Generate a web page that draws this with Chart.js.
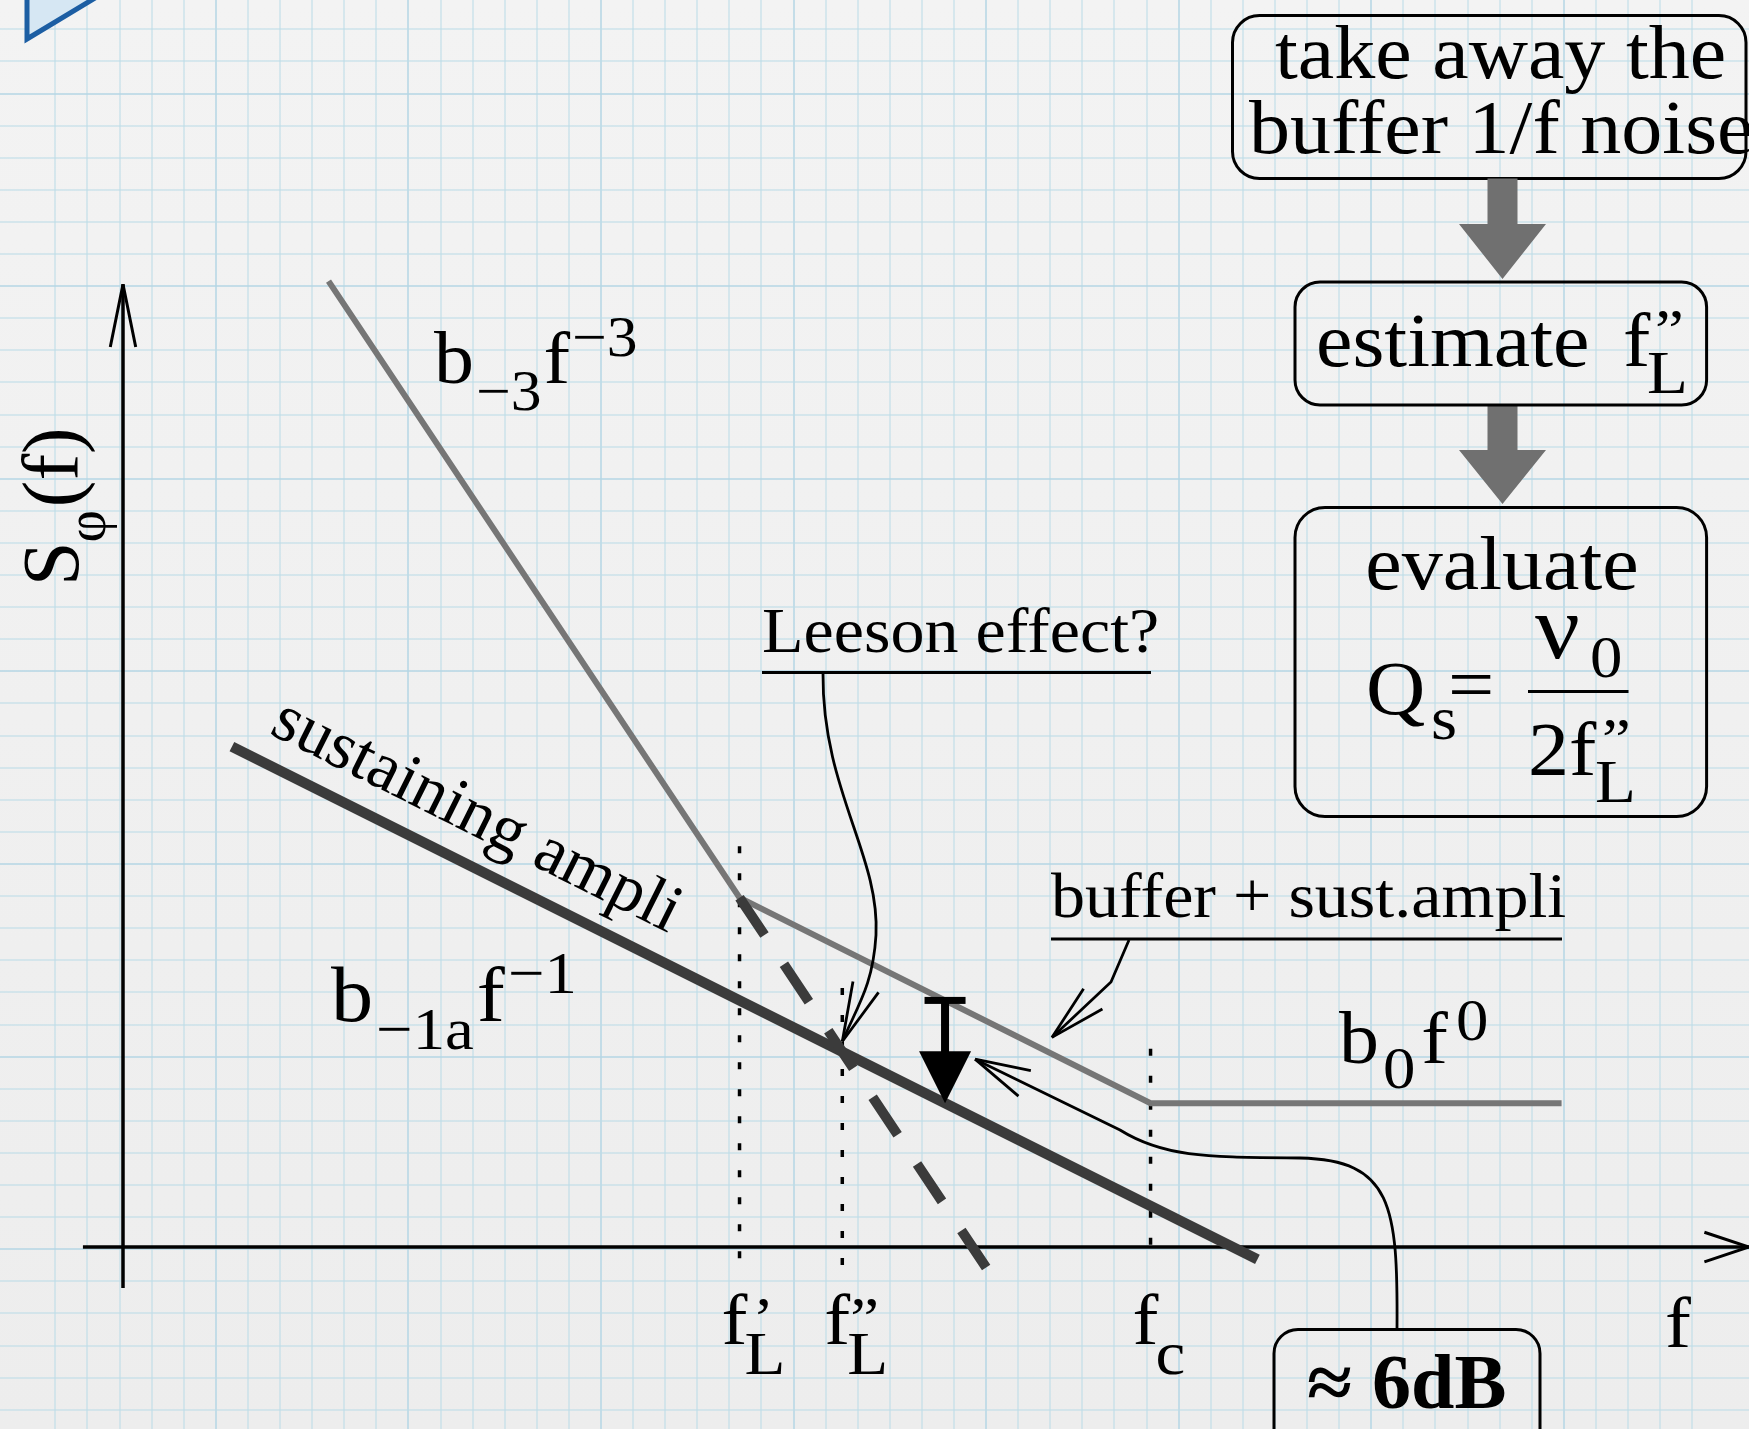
<!DOCTYPE html>
<html><head><meta charset="utf-8">
<script src="https://cdn.jsdelivr.net/npm/chart.js@4.4.1/dist/chart.umd.min.js"></script>
<style>html,body{margin:0;padding:0;background:#f1f1f1;overflow:hidden}canvas{display:block}</style>
</head><body>
<canvas id="c" width="1749" height="1429" style="width:1749px;height:1429px"></canvas>
<script>
// ---- Data (log-log units: x = log f in decades, y = log S in decades) ----
const totalX = [1, 3, 5, 7];            // b_-3 f^-3  ->  buffer + sust.ampli  ->  b0 f^0
const totalY = [9.4, 3.4, 1.4, 1.4];
const sustX = [0.53, 5.52];             // sustaining ampli, b_-1a f^-1
const sustY = [4.87, -0.12];
const leesonX = [3, 4.2];               // extrapolated f^-3 (dashed)
const leesonY = [3.4, -0.2];
const markerFreqs = [3, 3.5, 5];        // f_L', f_L'', f_c
const markerTop = [3.9, 2.52, 1.93];
const markerBottom = [-0.25, -0.25, 0];
const markerLabels = [['f', 'L', '\u2019'], ['f', 'L', '\u201D'], ['f', 'c', '']];
const dropX = [4];                      // "≈ 6dB" drop between buffer+sust and sust
const dropFrom = [2.4];
const dropTo = [1.4];
const leesonPoint = [3.5, 2.0];
const bufferPoint = [4.52, 2.04];
const axisX = [-0.195, 7.912];
const axisY = [-0.40, 9.37];

const FONT = '"Liberation Serif","Times New Roman","DejaVu Serif",serif';
const pts = (xs, ys) => xs.map((x, i) => ({x, y: ys[i]}));

function rich(ctx, x, y, parts, sx) {
  sx = sx || 1.08;
  ctx.save(); ctx.translate(x, y); ctx.scale(sx, 1);
  let cx = 0;
  for (const p of parts) {
    cx += (p.dx || 0) / sx;
    ctx.font = (p.b ? 'bold ' : '') + p.s + 'px ' + FONT;
    ctx.fillText(p.t, cx, p.dy || 0);
    cx += ctx.measureText(p.t).width;
  }
  ctx.restore();
}
function openHead(ctx, tx, ty, ang, len, half) {
  for (const s of [-1, 1]) {
    const b = ang + Math.PI + s * half;
    ctx.moveTo(tx + len * Math.cos(b), ty + len * Math.sin(b));
    ctx.lineTo(tx, ty);
  }
}
function rbox(ctx, x0, y0, x1, y1, r) {
  ctx.beginPath(); ctx.roundRect(x0, y0, x1 - x0, y1 - y0, r); ctx.stroke();
}
function grayArrow(ctx, cx, y0, y1, y2, sw, hw) {
  ctx.beginPath();
  ctx.moveTo(cx - sw / 2, y0); ctx.lineTo(cx + sw / 2, y0); ctx.lineTo(cx + sw / 2, y1);
  ctx.lineTo(cx + hw, y1); ctx.lineTo(cx, y2); ctx.lineTo(cx - hw, y1); ctx.lineTo(cx - sw / 2, y1);
  ctx.closePath(); ctx.fill();
}

const deco = {
  id: 'deco',
  beforeDraw(chart) {
    const ctx = chart.ctx, w = chart.width, h = chart.height;
    const g = ctx.createLinearGradient(0, 0, 0, h);
    g.addColorStop(0, '#f3f3f3'); g.addColorStop(1, '#ededed');
    ctx.save(); ctx.fillStyle = g; ctx.fillRect(0, 0, w, h); ctx.restore();
  },
  beforeDatasetsDraw(chart) {
    const ctx = chart.ctx, xs = chart.scales.x, ys = chart.scales.y;
    const X = v => xs.getPixelForValue(v), Y = v => ys.getPixelForValue(v);
    ctx.save();
    ctx.strokeStyle = '#000'; ctx.lineWidth = 3.5; ctx.lineCap = 'butt';
    ctx.beginPath(); ctx.moveTo(X(axisX[0]), Y(0)); ctx.lineTo(X(axisX[1]), Y(0)); ctx.stroke();
    ctx.lineWidth = 3;
    ctx.beginPath(); openHead(ctx, X(axisX[1]), Y(0), 0, 47, 0.32); ctx.stroke();
    ctx.lineWidth = 3.5;
    ctx.beginPath(); ctx.moveTo(X(0), Y(axisY[0])); ctx.lineTo(X(0), Y(axisY[1])); ctx.stroke();
    ctx.lineWidth = 3;
    ctx.beginPath(); openHead(ctx, X(0), Y(axisY[1]), -Math.PI / 2, 64, 0.2); ctx.stroke();
    ctx.restore();
  },
  afterDatasetsDraw(chart) {
    const ctx = chart.ctx, xs = chart.scales.x, ys = chart.scales.y;
    const X = v => xs.getPixelForValue(v), Y = v => ys.getPixelForValue(v);
    ctx.save();
    ctx.fillStyle = '#000'; ctx.strokeStyle = '#000';
    ctx.textBaseline = 'alphabetic'; ctx.textAlign = 'left';

    // top-left corner shape
    ctx.save();
    ctx.beginPath(); ctx.moveTo(27, -20); ctx.lineTo(27, 39); ctx.lineTo(100, -5); ctx.closePath();
    ctx.fillStyle = '#d6e7f3'; ctx.fill();
    ctx.strokeStyle = '#1c5ea3'; ctx.lineWidth = 5; ctx.lineJoin = 'miter'; ctx.stroke();
    ctx.restore();

    // y label S_phi(f)
    ctx.save(); ctx.translate(78, 586); ctx.rotate(-Math.PI / 2);
    rich(ctx, 0, 0, [{t: 'S', s: 80}, {t: '\u03C6', s: 56, dy: 27, dx: -1}, {t: '(f)', s: 80, dx: 3}], 1);
    ctx.restore();

    // x label
    rich(ctx, 1665, 1347, [{t: 'f', s: 72}]);

    // marker labels under axis
    markerFreqs.forEach((f, i) => {
      const x0 = X(f) - 18;
      const lab = markerLabels[i];
      rich(ctx, x0, 1344, [{t: lab[0], s: 72}]);
      rich(ctx, x0 + 23, 1374, [{t: lab[1], s: 62}]);
      if (lab[2]) rich(ctx, x0 + (i === 0 ? 31 : 26), 1338, [{t: lab[2], s: 60}]);
    });

    // slope labels
    rich(ctx, 434, 383, [{t: 'b', s: 74}, {t: '\u22123', s: 57, dy: 27, dx: 2}, {t: 'f', s: 74, dx: 2}, {t: '\u22123', s: 57, dy: -27, dx: 2}]);
    rich(ctx, 331, 1021, [{t: 'b', s: 78}, {t: '\u22121a', s: 60, dy: 28, dx: 3}, {t: 'f', s: 78, dx: 3}, {t: '\u22121', s: 60, dy: -28, dx: 3}]);
    rich(ctx, 1339, 1063, [{t: 'b', s: 74}, {t: '0', s: 60, dy: 25, dx: 4}, {t: 'f', s: 74, dx: 6}, {t: '0', s: 60, dy: -23, dx: 8}]);

    // sustaining ampli (rotated along the line)
    const ang = Math.atan2(Y(sustY[1]) - Y(sustY[0]), X(sustX[1]) - X(sustX[0]));
    ctx.save(); ctx.translate(268, 733); ctx.rotate(ang);
    rich(ctx, 0, 0, [{t: 'sustaining ampli', s: 68}], 1);
    ctx.restore();

    // Leeson effect?
    rich(ctx, 762, 652, [{t: 'Leeson effect?', s: 63}]);
    ctx.lineWidth = 3;
    ctx.beginPath(); ctx.moveTo(762, 672.6); ctx.lineTo(1151, 672.6); ctx.stroke();
    const lt = [X(leesonPoint[0]), Y(leesonPoint[1])];
    ctx.lineWidth = 2.8;
    ctx.beginPath(); ctx.moveTo(823, 673);
    ctx.bezierCurveTo(822, 790, 880, 855, 876, 935);
    ctx.bezierCurveTo(873, 985, 858, 1005, lt[0], lt[1]);
    ctx.stroke();
    ctx.beginPath(); openHead(ctx, lt[0], lt[1], Math.atan2(lt[1] - 1005, lt[0] - 858), 61, 0.23); ctx.stroke();

    // buffer + sust.ampli
    rich(ctx, 1051, 917, [{t: 'buffer + sust.ampli', s: 63}]);
    ctx.lineWidth = 3;
    ctx.beginPath(); ctx.moveTo(1051, 939); ctx.lineTo(1562, 939); ctx.stroke();
    const bt = [X(bufferPoint[0]), Y(bufferPoint[1])];
    ctx.lineWidth = 2.8;
    ctx.beginPath(); ctx.moveTo(1129, 940); ctx.lineTo(1111, 982); ctx.lineTo(bt[0], bt[1]); ctx.stroke();
    ctx.beginPath(); openHead(ctx, bt[0], bt[1], Math.atan2(bt[1] - 982, bt[0] - 1111), 58, 0.24); ctx.stroke();

    // drop marker (T with filled arrow)
    const cx = X(dropX[0]), topY = Y(dropFrom[0]), tipY = Y(dropTo[0]), baseY = tipY - 52;
    ctx.fillRect(cx - 20.5, topY - 3.5, 41, 7);
    ctx.fillRect(cx - 4, topY, 8, baseY - topY + 1);
    ctx.beginPath(); ctx.moveTo(cx - 26, baseY); ctx.lineTo(cx + 26, baseY); ctx.lineTo(cx, tipY); ctx.closePath(); ctx.fill();

    // 6dB callout
    const dt = [cx + 30, baseY + 8];
    ctx.lineWidth = 2.8;
    ctx.beginPath(); ctx.moveTo(1397, 1330);
    ctx.bezierCurveTo(1398, 1205, 1392, 1160, 1300, 1158);
    ctx.bezierCurveTo(1210, 1157, 1165, 1158, 1120, 1130);
    ctx.lineTo(dt[0], dt[1]);
    ctx.stroke();
    ctx.beginPath(); openHead(ctx, dt[0], dt[1], Math.atan2(dt[1] - 1130, dt[0] - 1120), 57, 0.25); ctx.stroke();
    ctx.lineWidth = 3;
    rbox(ctx, 1274, 1329.5, 1540, 1470, 24);
    rich(ctx, 1307, 1408, [{t: '\u2248', s: 76, b: true}]);
    rich(ctx, 1372, 1408, [{t: '6dB', s: 78, b: true}], 1.0);

    // flow boxes on the right
    ctx.lineWidth = 3;
    rbox(ctx, 1232.5, 15.6, 1746, 178.5, 27);
    rich(ctx, 1275, 78, [{t: 'take away the', s: 76}]);
    rich(ctx, 1249, 153, [{t: 'buffer 1/f noise', s: 76}]);

    ctx.fillStyle = '#707070';
    grayArrow(ctx, 1502.5, 178.5, 224, 279, 30, 43.5);
    grayArrow(ctx, 1502.5, 405, 450, 504, 30, 43.5);
    ctx.fillStyle = '#000';

    rbox(ctx, 1295, 282, 1706.6, 405, 25);
    rich(ctx, 1316, 366, [{t: 'estimate', s: 76}]);
    rich(ctx, 1623, 366, [{t: 'f', s: 76}]);
    rich(ctx, 1647, 393, [{t: 'L', s: 62}]);
    rich(ctx, 1655, 350, [{t: '\u201D', s: 60}]);

    rbox(ctx, 1295, 507.5, 1706.6, 816.5, 30);
    ctx.save(); ctx.textAlign = 'center';
    ctx.translate(1502, 589); ctx.scale(1.08, 1);
    ctx.font = '76px ' + FONT; ctx.fillText('evaluate', 0, 0);
    ctx.restore();
    rich(ctx, 1366, 714, [{t: 'Q', s: 76}]);
    rich(ctx, 1431, 739, [{t: 's', s: 62}]);
    rich(ctx, 1448, 710, [{t: '=', s: 76}]);
    rich(ctx, 1535, 658, [{t: '\u03BD', s: 92}]);
    rich(ctx, 1590, 677, [{t: '0', s: 60}]);
    ctx.lineWidth = 3;
    ctx.beginPath(); ctx.moveTo(1528, 691.5); ctx.lineTo(1628.5, 691.5); ctx.stroke();
    rich(ctx, 1528, 775, [{t: '2f', s: 76}]);
    rich(ctx, 1595, 802, [{t: 'L', s: 62}]);
    rich(ctx, 1602, 759, [{t: '\u201D', s: 60}]);

    ctx.restore();
  }
};

function gridColor(offset) {
  return (c) => {
    const v = c.tick ? c.tick.value : NaN;
    if (!Number.isInteger(v)) return 'rgba(0,0,0,0)';
    return ((v - offset) % 6 === 0) ? 'rgba(180,214,228,0.75)' : 'rgba(190,220,232,0.55)';
  };
}

function build() {
  const line = (data, color, width, order, dash) => ({
    data, borderColor: color, borderWidth: width, order,
    borderDash: dash || [], showLine: true, pointRadius: 0, pointHoverRadius: 0,
    tension: 0, fill: false, borderCapStyle: 'butt', borderJoinStyle: 'miter'
  });
  const datasets = [
    line(pts(leesonX, leesonY), '#3b3b3b', 10, 1, [45, 35]),
    line(pts(sustX, sustY), '#3b3b3b', 10.5, 2),
    line(pts(totalX, totalY), '#767676', 6, 3),
    ...markerFreqs.map((f, i) => line([{x: f, y: markerTop[i]}, {x: f, y: markerBottom[i]}], '#000', 3.5, 4, [7, 20]))
  ];
  new Chart(document.getElementById('c'), {
    type: 'scatter',
    data: {datasets},
    options: {
      responsive: false, animation: false, devicePixelRatio: 1,
      layout: {padding: 0},
      events: [],
      plugins: {legend: {display: false}, tooltip: {enabled: false}},
      scales: {
        x: {type: 'linear', min: -0.5985, max: 7.912, display: false},
        y: {type: 'linear', min: -1.771, max: 12.136, display: false},
        gx: {type: 'linear', position: 'bottom', min: -0.726, max: 53.77,
             ticks: {display: false, stepSize: 1, autoSkip: false, maxTicksLimit: 1000, padding: 0},
             grid: {drawTicks: false, tickLength: 0, lineWidth: 2, color: gridColor(0)},
             border: {display: false}},
        gy: {type: 'linear', position: 'left', reverse: true, min: -0.913, max: 43.6,
             ticks: {display: false, stepSize: 1, autoSkip: false, maxTicksLimit: 1000, padding: 0},
             grid: {drawTicks: false, tickLength: 0, lineWidth: 2, color: gridColor(2)},
             border: {display: false}}
      }
    },
    plugins: [deco]
  });
}
const fl = document.fonts ? Promise.all([
  document.fonts.load('76px "Liberation Serif"'),
  document.fonts.load('bold 76px "Liberation Serif"')
]).catch(() => {}) : Promise.resolve();
fl.then(build, build);
</script>
</body></html>
